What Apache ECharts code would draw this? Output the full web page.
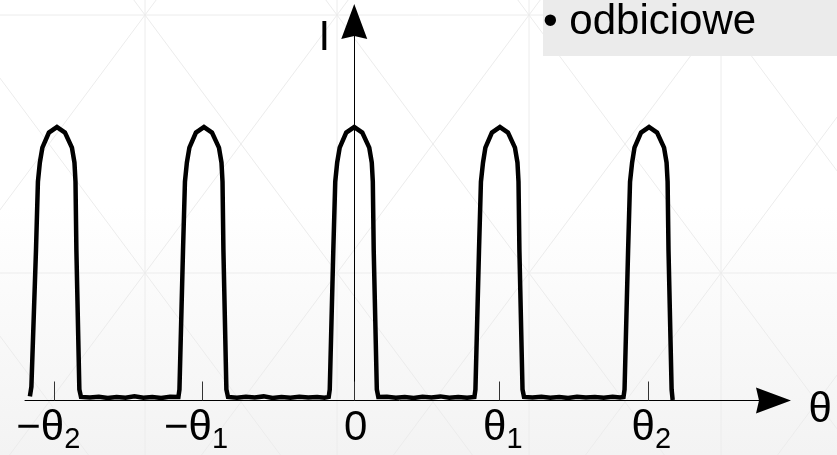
<!DOCTYPE html>
<html>
<head>
<meta charset="utf-8">
<script src="https://cdn.jsdelivr.net/npm/echarts@6/dist/echarts.min.js"></script>
<style>
  html, body { margin: 0; padding: 0; background: #fff; }
  #chart { width: 837px; height: 455px; }
</style>
</head>
<body>
<div id="chart"></div>
<script>
// ---- data (theta in arbitrary units, θ1 ≈ 10; intensity normalised to peak = 1) ----
const theta = [
  -21.84, -21.74, -21.43, -21.30, -21.17, -21.00, -20.56, -20.02, -19.48, -19.01, -18.84, -18.77, -18.71, -18.51, -18.40,
  -17.8, -17.2, -16.6, -16.0, -15.4, -14.8, -14.2, -13.6, -13.0, -12.4,
  -11.84, -11.77, -11.53, -11.40, -11.27, -11.10, -10.66, -10.12, -9.58, -9.11, -8.94, -8.87, -8.81, -8.61, -8.50,
  -7.9, -7.3, -6.7, -6.1, -5.5, -4.9, -4.3, -3.7, -3.1, -2.5, -2.0,
  -1.72, -1.65, -1.41, -1.28, -1.15, -0.98, -0.54, 0, 0.54, 1.01, 1.18, 1.25, 1.31, 1.52, 1.62,
  2.2, 2.8, 3.4, 4.0, 4.6, 5.2, 5.8, 6.4, 7.0, 7.6,
  8.09, 8.16, 8.40, 8.53, 8.67, 8.83, 9.27, 9.81, 10.35, 10.82, 10.99, 11.06, 11.12, 11.33, 11.43,
  12.0, 12.6, 13.2, 13.8, 14.4, 15.0, 15.6, 16.2, 16.8, 17.4, 17.9,
  18.13, 18.20, 18.44, 18.57, 18.71, 18.87, 19.31, 19.85, 20.39, 20.86, 21.03, 21.10, 21.16, 21.37, 21.44
];
const intensity = [
  0.015, 0.05, 0.55, 0.80, 0.87, 0.925, 0.98, 1.0, 0.98, 0.925, 0.87, 0.80, 0.55, 0.04, 0.013,
  0.011, 0.014, 0.009, 0.013, 0.010, 0.015, 0.010, 0.013, 0.009, 0.014,
  0.013, 0.04, 0.55, 0.80, 0.87, 0.925, 0.98, 1.0, 0.98, 0.925, 0.87, 0.80, 0.55, 0.04, 0.013,
  0.010, 0.014, 0.011, 0.015, 0.009, 0.013, 0.010, 0.014, 0.011, 0.013, 0.010,
  0.013, 0.04, 0.55, 0.80, 0.87, 0.925, 0.98, 1.0, 0.98, 0.925, 0.87, 0.80, 0.55, 0.04, 0.013,
  0.014, 0.010, 0.013, 0.009, 0.014, 0.011, 0.015, 0.010, 0.013, 0.010,
  0.013, 0.04, 0.55, 0.80, 0.87, 0.925, 0.98, 1.0, 0.98, 0.925, 0.87, 0.80, 0.55, 0.04, 0.013,
  0.011, 0.014, 0.010, 0.013, 0.009, 0.014, 0.011, 0.013, 0.010, 0.014, 0.011,
  0.013, 0.04, 0.55, 0.80, 0.87, 0.925, 0.98, 1.0, 0.98, 0.925, 0.87, 0.80, 0.55, 0.04, 0.002
];
const tickTheta = [-20.2, -10.26, 0, 9.74, 19.78];
const labelTheta = [-20.6, -10.65, 0.1, 10.0, 20.0];
const tickLabels = [['\u2212\u03b8', '2'], ['\u2212\u03b8', '1'], ['0', ''], ['\u03b8', '1'], ['\u03b8', '2']];
const axisNameX = '\u03b8';
const axisNameY = 'I';
const boxText = '\u2022 odbiciowe';

// ---- layout / style ----
const FONT = '"Liberation Sans", Arial, sans-serif';
const W = 837, H = 455;

const chart = echarts.init(document.getElementById('chart'), null, { renderer: 'canvas' });

// faint slide background pattern (decoration)
const bgEls = [];
bgEls.push({
  type: 'rect', z: -20, silent: true,
  shape: { x: 0, y: 0, width: W, height: H },
  style: { fill: new echarts.graphic.LinearGradient(0, 0, 0, 1, [
    { offset: 0, color: '#ffffff' }, { offset: 0.45, color: '#ffffff' }, { offset: 1, color: '#f3f3f3' }
  ]) }
});
const latticeColor = '#ececec';
const px0 = 145, py0 = 15, stepX = 192, slope = 129 / 96;
for (let k = -1; k <= 4; k++) {
  const x = px0 + stepX * k;
  bgEls.push({ type: 'line', z: -19, silent: true, shape: { x1: x, y1: 0, x2: x, y2: H }, style: { stroke: latticeColor, lineWidth: 1 } });
}
[15, 273].forEach(function (y) {
  bgEls.push({ type: 'line', z: -19, silent: true, shape: { x1: 0, y1: y, x2: W, y2: y }, style: { stroke: latticeColor, lineWidth: 1 } });
});
for (let k = -5; k <= 7; k++) {
  const x = px0 + stepX * k;
  const xa = x + (0 - py0) / slope, xb = x + (H - py0) / slope;
  bgEls.push({ type: 'line', z: -19, silent: true, shape: { x1: xa, y1: 0, x2: xb, y2: H }, style: { stroke: latticeColor, lineWidth: 1 } });
  const xc = x - (0 - py0) / slope, xd = x - (H - py0) / slope;
  bgEls.push({ type: 'line', z: -19, silent: true, shape: { x1: xc, y1: 0, x2: xd, y2: H }, style: { stroke: latticeColor, lineWidth: 1 } });
}
// grey bullet box
bgEls.push({ type: 'rect', z: 5, silent: true, shape: { x: 543, y: -2, width: 300, height: 58 }, style: { fill: '#ebebeb' } });
bgEls.push({ type: 'text', z: 6, silent: true, x: 543, y: 22,
  style: { text: boxText, font: '42px ' + FONT, fill: '#000', verticalAlign: 'middle', align: 'left' } });

const arrowPath = 'path://M0,35 L13,0 L26,35 L13,32 Z';

const option = {
  animation: false,
  grid: { left: 25, right: 63.5, top: 21.5, bottom: 54.5, containLabel: false },
  graphic: { elements: bgEls },
  xAxis: {
    type: 'value',
    min: -22.17,
    max: 28.23,
    splitLine: { show: false },
    axisLine: {
      show: true,
      onZero: false,
      symbol: ['none', arrowPath],
      symbolSize: [26, 37],
      lineStyle: { color: '#000', width: 1 }
    },
    axisTick: {
      show: true, inside: true, length: 19,
      customValues: tickTheta,
      lineStyle: { color: '#333', width: 1 }
    },
    axisLabel: {
      show: true,
      margin: 2,
      customValues: labelTheta,
      formatter: function (value) {
        let i = labelTheta.indexOf(value);
        if (i < 0) {
          let best = 0;
          labelTheta.forEach(function (v, j) { if (Math.abs(v - value) < Math.abs(labelTheta[best] - value)) best = j; });
          i = best;
        }
        const l = tickLabels[i];
        return '{m|' + l[0] + '}' + (l[1] ? '{s|' + l[1] + '}' : '');
      },
      rich: {
        m: { fontSize: 42, lineHeight: 52, fontFamily: FONT, color: '#000' },
        s: { fontSize: 29, lineHeight: 29, verticalAlign: 'bottom', fontFamily: FONT, color: '#000' }
      }
    },
    name: axisNameX,
    nameLocation: 'end',
    nameGap: 35,
    nameTextStyle: { fontSize: 42, fontFamily: FONT, color: '#000', verticalAlign: 'top', lineHeight: 19 }
  },
  yAxis: {
    type: 'value',
    min: 0,
    max: 1.386,
    splitLine: { show: false },
    axisTick: { show: false },
    axisLabel: { show: false },
    axisLine: {
      show: true,
      onZero: true,
      symbol: ['none', arrowPath],
      symbolSize: [29, 35],
      lineStyle: { color: '#000', width: 1 }
    },
    name: axisNameY,
    nameLocation: 'end',
    nameGap: -17,
    nameTextStyle: { fontSize: 42, fontFamily: FONT, color: '#000', align: 'right', verticalAlign: 'middle', padding: [0, 24, 0, 0] }
  },
  series: [{
    type: 'line',
    data: theta.map(function (t, i) { return [t, intensity[i]]; }),
    showSymbol: false,
    symbol: 'none',
    smooth: false,
    lineStyle: { color: '#000', width: 4.5, join: 'miter', cap: 'butt' },
    z: 3
  }]
};
chart.setOption(option);
</script>
</body>
</html>
